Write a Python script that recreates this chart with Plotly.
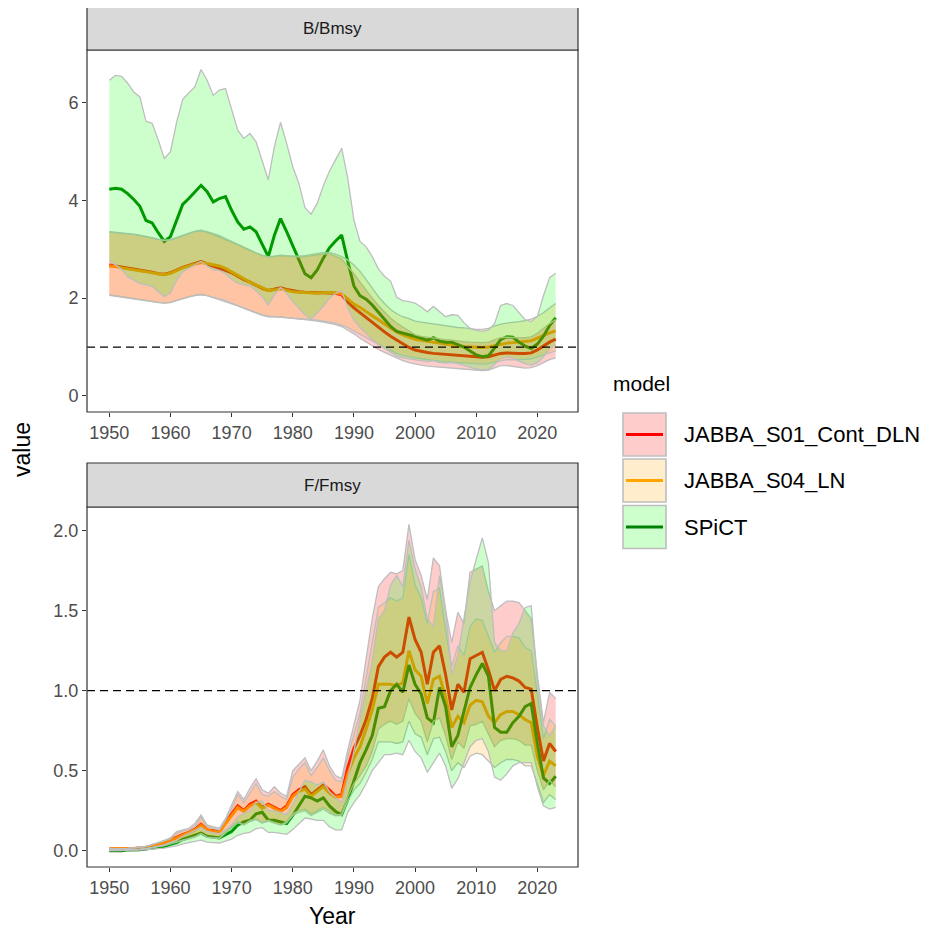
import plotly.graph_objects as go

years = list(range(1950, 2024))

# ---------------- B/Bmsy ----------------
sp_b_med = [4.23, 4.25, 4.23, 4.14, 4.02, 3.88, 3.59, 3.54, 3.34, 3.16,
            3.26, 3.59, 3.92, 4.04, 4.18, 4.31, 4.18, 3.97, 4.04, 4.08,
            3.80, 3.56, 3.41, 3.46, 3.36, 3.12, 2.85, 3.29, 3.63, 3.36,
            3.06, 2.79, 2.50, 2.42, 2.58, 2.82, 3.03, 3.17, 3.29, 2.75,
            2.25, 2.05, 1.98, 1.86, 1.72, 1.58, 1.42, 1.32, 1.28, 1.25,
            1.22, 1.18, 1.14, 1.19, 1.12, 1.10, 1.10, 1.05, 1.00, 0.92,
            0.84, 0.80, 0.82, 0.98, 1.15, 1.21, 1.20, 1.10, 1.02, 0.97,
            1.06, 1.22, 1.44, 1.60]
sp_b_hi = [6.46, 6.56, 6.54, 6.40, 6.22, 6.12, 5.62, 5.58, 5.24, 4.86,
           5.00, 5.60, 6.07, 6.20, 6.33, 6.68, 6.46, 6.15, 6.26, 6.29,
           5.85, 5.44, 5.27, 5.37, 5.20, 4.80, 4.42, 5.10, 5.60, 5.17,
           4.69, 4.35, 3.85, 3.72, 3.94, 4.30, 4.60, 4.83, 5.07, 4.45,
           3.60, 3.16, 3.05, 2.85, 2.60, 2.45, 2.35, 2.02, 1.95, 1.93,
           1.90, 1.82, 1.72, 1.83, 1.72, 1.62, 1.66, 1.65, 1.50, 1.38,
           1.34, 1.32, 1.35, 1.48, 1.85, 1.89, 1.85, 1.70, 1.56, 1.52,
           1.62, 2.05, 2.42, 2.51]
sp_b_lo = [2.77, 2.68, 2.59, 2.44, 2.37, 2.30, 2.27, 2.24, 2.13, 2.03,
           2.11, 2.37, 2.54, 2.61, 2.68, 2.75, 2.66, 2.58, 2.57, 2.50,
           2.39, 2.30, 2.27, 2.25, 2.15, 2.03, 1.86, 2.07, 2.22, 2.10,
           1.93, 1.79, 1.66, 1.57, 1.69, 1.83, 2.00, 2.10, 2.15, 1.80,
           1.55, 1.40, 1.28, 1.15, 1.05, 0.97, 0.90, 0.82, 0.78, 0.76,
           0.74, 0.73, 0.70, 0.72, 0.68, 0.67, 0.68, 0.66, 0.63, 0.59,
           0.55, 0.53, 0.54, 0.64, 0.76, 0.80, 0.78, 0.71, 0.66, 0.63,
           0.68, 0.80, 0.96, 1.05]

r_b_med = [2.68, 2.66, 2.63, 2.61, 2.60, 2.58, 2.56, 2.53, 2.50, 2.49,
           2.52, 2.58, 2.63, 2.67, 2.71, 2.75, 2.70, 2.66, 2.62, 2.57,
           2.52, 2.45, 2.38, 2.33, 2.27, 2.20, 2.16, 2.18, 2.21, 2.18,
           2.15, 2.13, 2.12, 2.11, 2.11, 2.11, 2.11, 2.10, 2.07, 1.92,
           1.80, 1.70, 1.60, 1.50, 1.40, 1.31, 1.22, 1.14, 1.06, 0.99,
           0.94, 0.91, 0.89, 0.87, 0.86, 0.85, 0.84, 0.82, 0.81, 0.80,
           0.79, 0.79, 0.80, 0.84, 0.87, 0.88, 0.87, 0.87, 0.87, 0.88,
           0.94, 1.02, 1.10, 1.16]
r_b_hi = [3.36, 3.35, 3.33, 3.32, 3.31, 3.29, 3.27, 3.24, 3.21, 3.19,
          3.20, 3.24, 3.29, 3.33, 3.37, 3.39, 3.35, 3.30, 3.25, 3.20,
          3.15, 3.09, 3.03, 2.97, 2.92, 2.87, 2.84, 2.85, 2.87, 2.86,
          2.85, 2.84, 2.85, 2.87, 2.89, 2.90, 2.90, 2.86, 2.80, 2.66,
          2.50, 2.33, 2.16, 2.00, 1.85, 1.71, 1.59, 1.49, 1.41, 1.34,
          1.25, 1.22, 1.20, 1.18, 1.16, 1.15, 1.14, 1.12, 1.11, 1.10,
          1.09, 1.09, 1.10, 1.15, 1.19, 1.20, 1.19, 1.19, 1.19, 1.21,
          1.28, 1.38, 1.48, 1.56]
r_b_lo = [2.07, 2.05, 2.03, 2.01, 2.00, 1.98, 1.96, 1.94, 1.92, 1.90,
          1.92, 1.96, 2.00, 2.03, 2.06, 2.08, 2.05, 2.01, 1.97, 1.93,
          1.89, 1.84, 1.79, 1.74, 1.69, 1.65, 1.62, 1.62, 1.62, 1.60,
          1.58, 1.57, 1.56, 1.55, 1.53, 1.51, 1.49, 1.46, 1.42, 1.35,
          1.27, 1.18, 1.10, 1.02, 0.95, 0.89, 0.83, 0.77, 0.72, 0.68,
          0.65, 0.63, 0.61, 0.60, 0.58, 0.57, 0.56, 0.55, 0.54, 0.53,
          0.52, 0.52, 0.53, 0.58, 0.62, 0.62, 0.60, 0.58, 0.57, 0.58,
          0.62, 0.68, 0.74, 0.78]

o_b_med = [2.66, 2.65, 2.62, 2.60, 2.58, 2.56, 2.54, 2.52, 2.49, 2.48,
           2.51, 2.57, 2.62, 2.66, 2.70, 2.73, 2.71, 2.68, 2.66, 2.61,
           2.54, 2.46, 2.39, 2.33, 2.27, 2.21, 2.16, 2.17, 2.19, 2.16,
           2.13, 2.12, 2.11, 2.10, 2.10, 2.11, 2.11, 2.11, 2.09, 1.98,
           1.88, 1.81, 1.73, 1.64, 1.56, 1.47, 1.39, 1.31, 1.25, 1.20,
           1.16, 1.14, 1.12, 1.10, 1.07, 1.05, 1.04, 1.02, 1.01, 1.00,
           0.99, 0.99, 1.00, 1.03, 1.06, 1.08, 1.09, 1.10, 1.11, 1.13,
           1.18, 1.24, 1.29, 1.33]
o_b_hi = [3.35, 3.34, 3.32, 3.31, 3.30, 3.28, 3.26, 3.23, 3.20, 3.18,
          3.19, 3.23, 3.28, 3.32, 3.36, 3.38, 3.36, 3.32, 3.28, 3.22,
          3.16, 3.10, 3.04, 2.98, 2.93, 2.88, 2.85, 2.86, 2.88, 2.87,
          2.86, 2.86, 2.87, 2.89, 2.92, 2.93, 2.93, 2.90, 2.85, 2.78,
          2.68, 2.55, 2.38, 2.20, 2.03, 1.89, 1.77, 1.68, 1.62, 1.58,
          1.53, 1.51, 1.49, 1.47, 1.45, 1.43, 1.42, 1.40, 1.39, 1.37,
          1.36, 1.36, 1.38, 1.43, 1.47, 1.49, 1.50, 1.52, 1.54, 1.57,
          1.63, 1.70, 1.80, 1.89]
o_b_lo = [2.06, 2.04, 2.02, 2.00, 1.99, 1.97, 1.95, 1.93, 1.91, 1.90,
          1.91, 1.95, 1.99, 2.02, 2.05, 2.07, 2.05, 2.02, 1.99, 1.95,
          1.90, 1.85, 1.80, 1.75, 1.70, 1.66, 1.63, 1.62, 1.62, 1.60,
          1.59, 1.58, 1.57, 1.56, 1.55, 1.53, 1.51, 1.49, 1.45, 1.40,
          1.33, 1.26, 1.19, 1.12, 1.05, 0.99, 0.93, 0.87, 0.83, 0.80,
          0.78, 0.76, 0.74, 0.73, 0.71, 0.70, 0.69, 0.68, 0.67, 0.66,
          0.65, 0.65, 0.66, 0.69, 0.72, 0.74, 0.74, 0.74, 0.75, 0.76,
          0.80, 0.85, 0.89, 0.92]

# ---------------- F/Fmsy ----------------
sp_f_med = [0.00, 0.00, 0.00, 0.005, 0.005, 0.006, 0.01, 0.015, 0.02, 0.027,
            0.04, 0.05, 0.07, 0.085, 0.10, 0.11, 0.09, 0.085, 0.08, 0.10,
            0.12, 0.16, 0.18, 0.19, 0.23, 0.24, 0.19, 0.19, 0.18, 0.17,
            0.22, 0.28, 0.34, 0.33, 0.31, 0.33, 0.28, 0.245, 0.225, 0.32,
            0.43, 0.55, 0.63, 0.72, 0.89, 0.90, 1.00, 1.04, 0.99, 1.16,
            1.04, 0.98, 0.83, 0.80, 1.02, 0.90, 0.65, 0.72, 0.87, 1.02,
            1.10, 1.17, 1.09, 0.77, 0.74, 0.74, 0.80, 0.84, 0.90, 0.92,
            0.67, 0.455, 0.42, 0.465]
sp_f_hi = [0.0, 0.0, 0.0, 0.006, 0.006, 0.008, 0.013, 0.02, 0.026, 0.036,
           0.052, 0.065, 0.09, 0.11, 0.13, 0.145, 0.12, 0.112, 0.105, 0.13,
           0.16, 0.21, 0.235, 0.25, 0.30, 0.31, 0.25, 0.25, 0.235, 0.225,
           0.29, 0.37, 0.44, 0.43, 0.41, 0.43, 0.37, 0.33, 0.30, 0.45,
           0.62, 0.82, 1.00, 1.18, 1.45, 1.50, 1.66, 1.72, 1.65, 1.94,
           1.76, 1.65, 1.45, 1.40, 1.72, 1.50, 1.10, 1.22, 1.45, 1.68,
           1.82, 1.955, 1.80, 1.30, 1.25, 1.25, 1.36, 1.42, 1.52, 1.53,
           1.07, 0.78, 0.72, 0.78]
sp_f_lo = [0.0, 0.0, 0.0, 0.003, 0.003, 0.004, 0.006, 0.009, 0.012, 0.016,
           0.024, 0.03, 0.042, 0.051, 0.06, 0.066, 0.054, 0.051, 0.048, 0.06,
           0.072, 0.096, 0.108, 0.114, 0.138, 0.144, 0.114, 0.114, 0.108, 0.102,
           0.132, 0.168, 0.204, 0.198, 0.19, 0.19, 0.15, 0.13, 0.13, 0.24,
           0.30, 0.35, 0.42, 0.50, 0.55, 0.60, 0.60, 0.61, 0.60, 0.69,
           0.62, 0.58, 0.49, 0.55, 0.61, 0.53, 0.39, 0.45, 0.55, 0.65,
           0.69, 0.70, 0.62, 0.46, 0.44, 0.48, 0.53, 0.55, 0.55, 0.55,
           0.40, 0.28, 0.26, 0.27]

r_f_med = [0.01, 0.01, 0.01, 0.012, 0.014, 0.016, 0.02, 0.03, 0.037, 0.05,
           0.068, 0.085, 0.10, 0.115, 0.135, 0.165, 0.13, 0.125, 0.12, 0.18,
           0.23, 0.28, 0.25, 0.29, 0.31, 0.27, 0.29, 0.27, 0.25, 0.28,
           0.35, 0.38, 0.40, 0.35, 0.38, 0.41, 0.38, 0.34, 0.35, 0.52,
           0.64, 0.72, 0.82, 0.95, 1.15, 1.21, 1.24, 1.21, 1.24, 1.46,
           1.32, 1.24, 1.04, 1.24, 1.28, 1.10, 0.88, 1.04, 0.99, 1.20,
           1.22, 1.24, 1.13, 1.00, 1.07, 1.09, 1.08, 1.06, 1.02, 1.01,
           0.77, 0.56, 0.67, 0.62]
r_f_hi = [0.012, 0.012, 0.012, 0.015, 0.018, 0.02, 0.026, 0.04, 0.05, 0.065,
          0.08, 0.12, 0.13, 0.14, 0.17, 0.224, 0.16, 0.15, 0.14, 0.20,
          0.28, 0.37, 0.32, 0.39, 0.45, 0.38, 0.36, 0.40, 0.36, 0.34,
          0.50, 0.54, 0.58, 0.50, 0.56, 0.63, 0.53, 0.47, 0.45, 0.63,
          0.78, 0.94, 1.20, 1.45, 1.65, 1.70, 1.74, 1.73, 1.75, 2.04,
          1.82, 1.72, 1.57, 1.83, 1.78, 1.50, 1.30, 1.49, 1.42, 1.74,
          1.76, 1.78, 1.62, 1.50, 1.53, 1.56, 1.56, 1.55, 1.50, 1.45,
          1.10, 0.80, 0.99, 0.95]
r_f_lo = [0.006, 0.006, 0.006, 0.008, 0.009, 0.01, 0.013, 0.02, 0.024, 0.033,
          0.044, 0.055, 0.065, 0.075, 0.088, 0.107, 0.085, 0.081, 0.078, 0.117,
          0.15, 0.18, 0.163, 0.19, 0.20, 0.175, 0.19, 0.175, 0.16, 0.18,
          0.23, 0.25, 0.26, 0.23, 0.25, 0.27, 0.25, 0.22, 0.23, 0.34,
          0.42, 0.47, 0.53, 0.62, 0.76, 0.79, 0.81, 0.79, 0.81, 0.95,
          0.86, 0.81, 0.68, 0.81, 0.83, 0.72, 0.57, 0.68, 0.64, 0.78,
          0.79, 0.81, 0.73, 0.65, 0.69, 0.70, 0.70, 0.69, 0.66, 0.66,
          0.50, 0.38, 0.44, 0.40]

o_f_med = [0.01, 0.01, 0.01, 0.012, 0.014, 0.016, 0.02, 0.028, 0.035, 0.048,
           0.065, 0.08, 0.095, 0.11, 0.13, 0.16, 0.13, 0.12, 0.115, 0.17,
           0.22, 0.27, 0.245, 0.28, 0.30, 0.265, 0.285, 0.265, 0.245, 0.27,
           0.34, 0.37, 0.385, 0.34, 0.37, 0.40, 0.36, 0.335, 0.34, 0.48,
           0.58, 0.65, 0.76, 0.88, 1.04, 1.04, 1.04, 1.03, 1.05, 1.25,
           1.13, 1.09, 0.92, 1.07, 1.09, 0.96, 0.77, 0.84, 0.80, 0.91,
           0.94, 0.93, 0.84, 0.80, 0.85, 0.87, 0.87, 0.85, 0.82, 0.80,
           0.59, 0.47, 0.56, 0.53]
o_f_hi = [0.012, 0.012, 0.012, 0.015, 0.018, 0.02, 0.025, 0.038, 0.048, 0.062,
          0.075, 0.11, 0.125, 0.13, 0.15, 0.21, 0.15, 0.14, 0.13, 0.19,
          0.26, 0.35, 0.30, 0.36, 0.42, 0.35, 0.34, 0.37, 0.34, 0.32,
          0.46, 0.51, 0.55, 0.47, 0.52, 0.58, 0.50, 0.44, 0.43, 0.59,
          0.72, 0.86, 1.08, 1.30, 1.52, 1.55, 1.58, 1.56, 1.58, 1.85,
          1.66, 1.58, 1.42, 1.62, 1.64, 1.38, 1.15, 1.28, 1.22, 1.40,
          1.45, 1.44, 1.34, 1.24, 1.30, 1.34, 1.34, 1.33, 1.27, 1.25,
          0.98, 0.70, 0.82, 0.78]
o_f_lo = [0.006, 0.006, 0.006, 0.008, 0.009, 0.01, 0.013, 0.018, 0.023, 0.031,
          0.042, 0.052, 0.062, 0.072, 0.085, 0.104, 0.085, 0.078, 0.075, 0.11,
          0.143, 0.175, 0.16, 0.182, 0.195, 0.172, 0.185, 0.172, 0.16, 0.175,
          0.22, 0.24, 0.25, 0.22, 0.24, 0.26, 0.235, 0.218, 0.22, 0.31,
          0.38, 0.42, 0.49, 0.57, 0.68, 0.68, 0.68, 0.67, 0.68, 0.81,
          0.73, 0.71, 0.60, 0.70, 0.71, 0.62, 0.50, 0.55, 0.52, 0.59,
          0.61, 0.60, 0.56, 0.52, 0.55, 0.57, 0.57, 0.56, 0.53, 0.53,
          0.42, 0.30, 0.35, 0.32]

models = ["JABBA_S01_Cont_DLN", "JABBA_S04_LN", "SPiCT"]
line_colors = ["#FF0000", "#FFA500", "#008000"]
fill_colors = ["rgba(255,0,0,0.2)", "rgba(255,165,0,0.2)", "rgba(0,255,0,0.2)"]
outline = "rgb(190,190,190)"

panels = [
    ("x", "y", [(r_b_med, r_b_lo, r_b_hi), (o_b_med, o_b_lo, o_b_hi), (sp_b_med, sp_b_lo, sp_b_hi)]),
    ("x2", "y2", [(r_f_med, r_f_lo, r_f_hi), (o_f_med, o_f_lo, o_f_hi), (sp_f_med, sp_f_lo, sp_f_hi)]),
]

fig = go.Figure()
for xa, ya, series in panels:
    # median lines first (ribbons are drawn on top of them)
    for i, (med, lo, hi) in enumerate(series):
        fig.add_trace(go.Scatter(x=years, y=med, mode="lines", xaxis=xa, yaxis=ya,
                                 line=dict(color=line_colors[i], width=3),
                                 showlegend=False, hoverinfo="skip"))
    for i, (med, lo, hi) in enumerate(series):
        fig.add_trace(go.Scatter(x=years + years[::-1], y=hi + lo[::-1], mode="none",
                                 fill="toself", fillcolor=fill_colors[i], xaxis=xa, yaxis=ya,
                                 showlegend=False, hoverinfo="skip"))
        for bound in (hi, lo):
            fig.add_trace(go.Scatter(x=years, y=bound, mode="lines", xaxis=xa, yaxis=ya,
                                     line=dict(color=outline, width=1.3),
                                     showlegend=False, hoverinfo="skip"))

W, H = 914, 924
OFF = 8  # page body margin offset
def px(x):
    return (x - OFF) / W
def py(y):
    return 1 - (y - OFF) / H

L, R = 87, 578
P1T, P1B = 50, 412
P2T, P2B = 507, 867
S1T, S2T = 7, 463

font_family = "Liberation Sans, Arial, sans-serif"
axis_common = dict(showgrid=False, zeroline=False, showline=False, ticks="outside",
                   ticklen=4, tickwidth=1, tickcolor="#333333",
                   tickfont=dict(size=18, color="#4D4D4D", family=font_family))
year_ticks = [1950, 1960, 1970, 1980, 1990, 2000, 2010, 2020]

fig.update_layout(
    width=W, height=H, margin=dict(l=0, r=0, t=0, b=0),
    paper_bgcolor="white", plot_bgcolor="white", showlegend=False,
    font=dict(family=font_family),
    xaxis=dict(domain=[px(L), px(R)], range=[1946.35, 2026.65], anchor="y",
               tickvals=year_ticks, **axis_common),
    yaxis=dict(domain=[py(P1B), py(P1T)], range=[-0.33, 7.08], anchor="x",
               tickvals=[0, 2, 4, 6], **axis_common),
    xaxis2=dict(domain=[px(L), px(R)], range=[1946.35, 2026.65], anchor="y2",
                tickvals=year_ticks, **axis_common),
    yaxis2=dict(domain=[py(P2B), py(P2T)], range=[-0.102, 2.148], anchor="x2",
                tickvals=[0, 0.5, 1, 1.5, 2], ticktext=["0.0", "0.5", "1.0", "1.5", "2.0"],
                **axis_common),
)

shapes = []
# reference lines at 1
for xr, yr in (("x domain", "y"), ("x2 domain", "y2")):
    shapes.append(dict(type="line", xref=xr, yref=yr, x0=0, x1=1, y0=1, y1=1,
                       line=dict(color="black", width=1.3, dash="8px,5px"), layer="above"))
# panel borders and strips
for top, bot, stop in ((P1T, P1B, S1T), (P2T, P2B, S2T)):
    shapes.append(dict(type="rect", xref="paper", yref="paper", x0=px(L), x1=px(R),
                       y0=py(bot), y1=py(top), line=dict(color="#333333", width=1.2),
                       fillcolor="rgba(0,0,0,0)", layer="above"))
    shapes.append(dict(type="rect", xref="paper", yref="paper", x0=px(L), x1=px(R),
                       y0=py(top), y1=py(stop), line=dict(color="#333333", width=1.2),
                       fillcolor="#D9D9D9", layer="above"))

annotations = [
    dict(text="B/Bmsy", x=px((L + R) / 2), y=py((S1T + P1T) / 2), xref="paper", yref="paper",
         showarrow=False, xanchor="center", yanchor="middle",
         font=dict(size=17, color="#1A1A1A", family=font_family)),
    dict(text="F/Fmsy", x=px((L + R) / 2), y=py((S2T + P2T) / 2), xref="paper", yref="paper",
         showarrow=False, xanchor="center", yanchor="middle",
         font=dict(size=17, color="#1A1A1A", family=font_family)),
    dict(text="value", x=px(22), y=py(450), xref="paper", yref="paper", textangle=-90,
         showarrow=False, xanchor="center", yanchor="middle",
         font=dict(size=23, color="black", family=font_family)),
    dict(text="Year", x=px((L + R) / 2), y=py(916), xref="paper", yref="paper",
         showarrow=False, xanchor="center", yanchor="middle",
         font=dict(size=23, color="black", family=font_family)),
    dict(text="model", x=px(611), y=py(383), xref="paper", yref="paper",
         showarrow=False, xanchor="left", yanchor="middle",
         font=dict(size=21, color="black", family=font_family)),
]

# manual legend (filled key with a line on top)
key_centers = [434.5, 480.5, 527]
for i, name in enumerate(models):
    cy = key_centers[i]
    shapes.append(dict(type="rect", xref="paper", yref="paper", x0=px(623), x1=px(666),
                       y0=py(cy + 21.5), y1=py(cy - 21.5),
                       line=dict(color="rgb(190,190,190)", width=1.6),
                       fillcolor=fill_colors[i]))
    shapes.append(dict(type="line", xref="paper", yref="paper", x0=px(626), x1=px(663),
                       y0=py(cy), y1=py(cy), line=dict(color=line_colors[i], width=3)))
    annotations.append(dict(text=name, x=px(682), y=py(cy), xref="paper", yref="paper",
                            showarrow=False, xanchor="left", yanchor="middle",
                            font=dict(size=22, color="black", family=font_family)))

fig.update_layout(shapes=shapes, annotations=annotations)
fig.write_html("out.html")
